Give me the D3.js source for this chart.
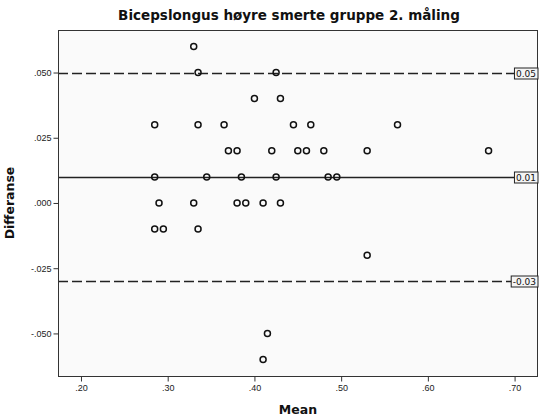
<!DOCTYPE html>
<html>
<head>
<meta charset="utf-8">
<script src="https://cdn.jsdelivr.net/npm/d3@7"></script>
<style>
  html, body { margin: 0; padding: 0; background: #ffffff; }
  svg { display: block; font-family: "DejaVu Sans", sans-serif; }
</style>
</head>
<body>
<svg id="chart" width="542" height="419"></svg>
<script>
// Bland-Altman plot: mean of two measurements vs. their difference
const meanValues = [
  0.330,
  0.335, 0.425,
  0.400, 0.430,
  0.285, 0.335, 0.365, 0.445, 0.465, 0.565,
  0.370, 0.380, 0.420, 0.450, 0.460, 0.480, 0.530, 0.670,
  0.285, 0.345, 0.385, 0.425, 0.485, 0.495,
  0.290, 0.330, 0.380, 0.390, 0.410, 0.430,
  0.285, 0.295, 0.335,
  0.530,
  0.415,
  0.410
];
const diffValues = [
  0.06,
  0.05, 0.05,
  0.04, 0.04,
  0.03, 0.03, 0.03, 0.03, 0.03, 0.03,
  0.02, 0.02, 0.02, 0.02, 0.02, 0.02, 0.02, 0.02,
  0.01, 0.01, 0.01, 0.01, 0.01, 0.01,
  0.00, 0.00, 0.00, 0.00, 0.00, 0.00,
  -0.01, -0.01, -0.01,
  -0.02,
  -0.05,
  -0.06
];
// Reference lines: upper limit, mean difference, lower limit
const refValues = [0.05, 0.01, -0.03];
const refLabels = ["0.05", "0.01", "-0.03"];
const refDashed = [true, false, true];

const xTicks = [0.20, 0.30, 0.40, 0.50, 0.60, 0.70];
const yTicks = [0.050, 0.025, 0.000, -0.025, -0.050];

const titleText = "Bicepslongus høyre smerte gruppe 2. måling";
const xTitle = "Mean";
const yTitle = "Differanse";

const svg = d3.select("#chart");
const plot = { left: 58, right: 538, top: 30, bottom: 377 };

const x = d3.scaleLinear().domain([0.1735, 0.727]).range([plot.left, plot.right]);
const y = d3.scaleLinear().domain([-0.0667, 0.0663]).range([plot.bottom, plot.top]);

// SPSS-style tick labels: no leading zero, plain hyphen for negatives
const fmtTick = (d, digits) => {
  const s = d.toFixed(digits);
  return s.replace(/^(-?)0\./, "$1.");
};

// plot background
svg.append("rect")
  .attr("x", plot.left).attr("y", plot.top)
  .attr("width", plot.right - plot.left).attr("height", plot.bottom - plot.top)
  .attr("fill", "#fafafa").attr("stroke", "none");

// reference lines
svg.append("g").selectAll("line").data(refValues).join("line")
  .attr("x1", plot.left).attr("x2", plot.right)
  .attr("y1", d => Math.round(y(d)) + 0.5).attr("y2", d => Math.round(y(d)) + 0.5)
  .attr("stroke", "#222").attr("stroke-width", 1.4)
  .attr("stroke-dasharray", (d, i) => refDashed[i] ? "10,4" : null);

// points
svg.append("g").selectAll("circle").data(meanValues).join("circle")
  .attr("cx", d => x(d))
  .attr("cy", (d, i) => y(diffValues[i]))
  .attr("r", 3)
  .attr("fill", "none")
  .attr("stroke", "#111")
  .attr("stroke-width", 1.5);

// frame
svg.append("rect")
  .attr("x", plot.left + 0.5).attr("y", plot.top + 0.5)
  .attr("width", plot.right - plot.left - 1).attr("height", plot.bottom - plot.top - 1)
  .attr("fill", "none").attr("stroke", "#333").attr("stroke-width", 1);

// axes
const yAxis = d3.axisLeft(y).tickValues(yTicks).tickSize(5).tickPadding(2)
  .tickFormat(d => fmtTick(d, 3));
const gy = svg.append("g").attr("transform", `translate(${plot.left + 0.5},0)`).call(yAxis);
gy.select(".domain").remove();
gy.selectAll("line").attr("stroke", "#333");
gy.selectAll("text").attr("font-size", 9).attr("fill", "#222");

const xAxis = d3.axisBottom(x).tickValues(xTicks).tickSize(5).tickPadding(3)
  .tickFormat(d => fmtTick(d, 2));
const gx = svg.append("g").attr("transform", `translate(0,${plot.bottom - 0.5})`).call(xAxis);
gx.select(".domain").remove();
gx.selectAll("line").attr("stroke", "#333");
gx.selectAll("text").attr("font-size", 9).attr("fill", "#222");

// reference line value boxes
const lab = svg.append("g").selectAll("g").data(refValues).join("g");
lab.each(function(d, i) {
  const g = d3.select(this);
  const t = g.append("text")
    .attr("x", plot.right - 2).attr("y", Math.round(y(d)) + 0.5)
    .attr("text-anchor", "end").attr("dominant-baseline", "central")
    .attr("font-size", 9).attr("fill", "#111")
    .text(refLabels[i]);
  const bb = t.node().getBBox();
  g.insert("rect", "text")
    .attr("x", bb.x - 1.5).attr("y", Math.round(y(d)) - 5)
    .attr("width", plot.right - bb.x + 1.5).attr("height", 11)
    .attr("fill", "#f4f4f4").attr("stroke", "#222").attr("stroke-width", 1);
});

// titles
svg.append("text")
  .attr("x", 289).attr("y", 20)
  .attr("text-anchor", "middle").attr("font-size", 13.5).attr("font-weight", "bold")
  .attr("fill", "#111").text(titleText);

svg.append("text")
  .attr("x", 298).attr("y", 414)
  .attr("text-anchor", "middle").attr("font-size", 12.5).attr("font-weight", "bold")
  .attr("fill", "#111").text(xTitle);

svg.append("text")
  .attr("transform", `translate(14,${203}) rotate(-90)`)
  .attr("text-anchor", "middle").attr("font-size", 12.5).attr("font-weight", "bold")
  .attr("fill", "#111").text(yTitle);
</script>
</body>
</html>
